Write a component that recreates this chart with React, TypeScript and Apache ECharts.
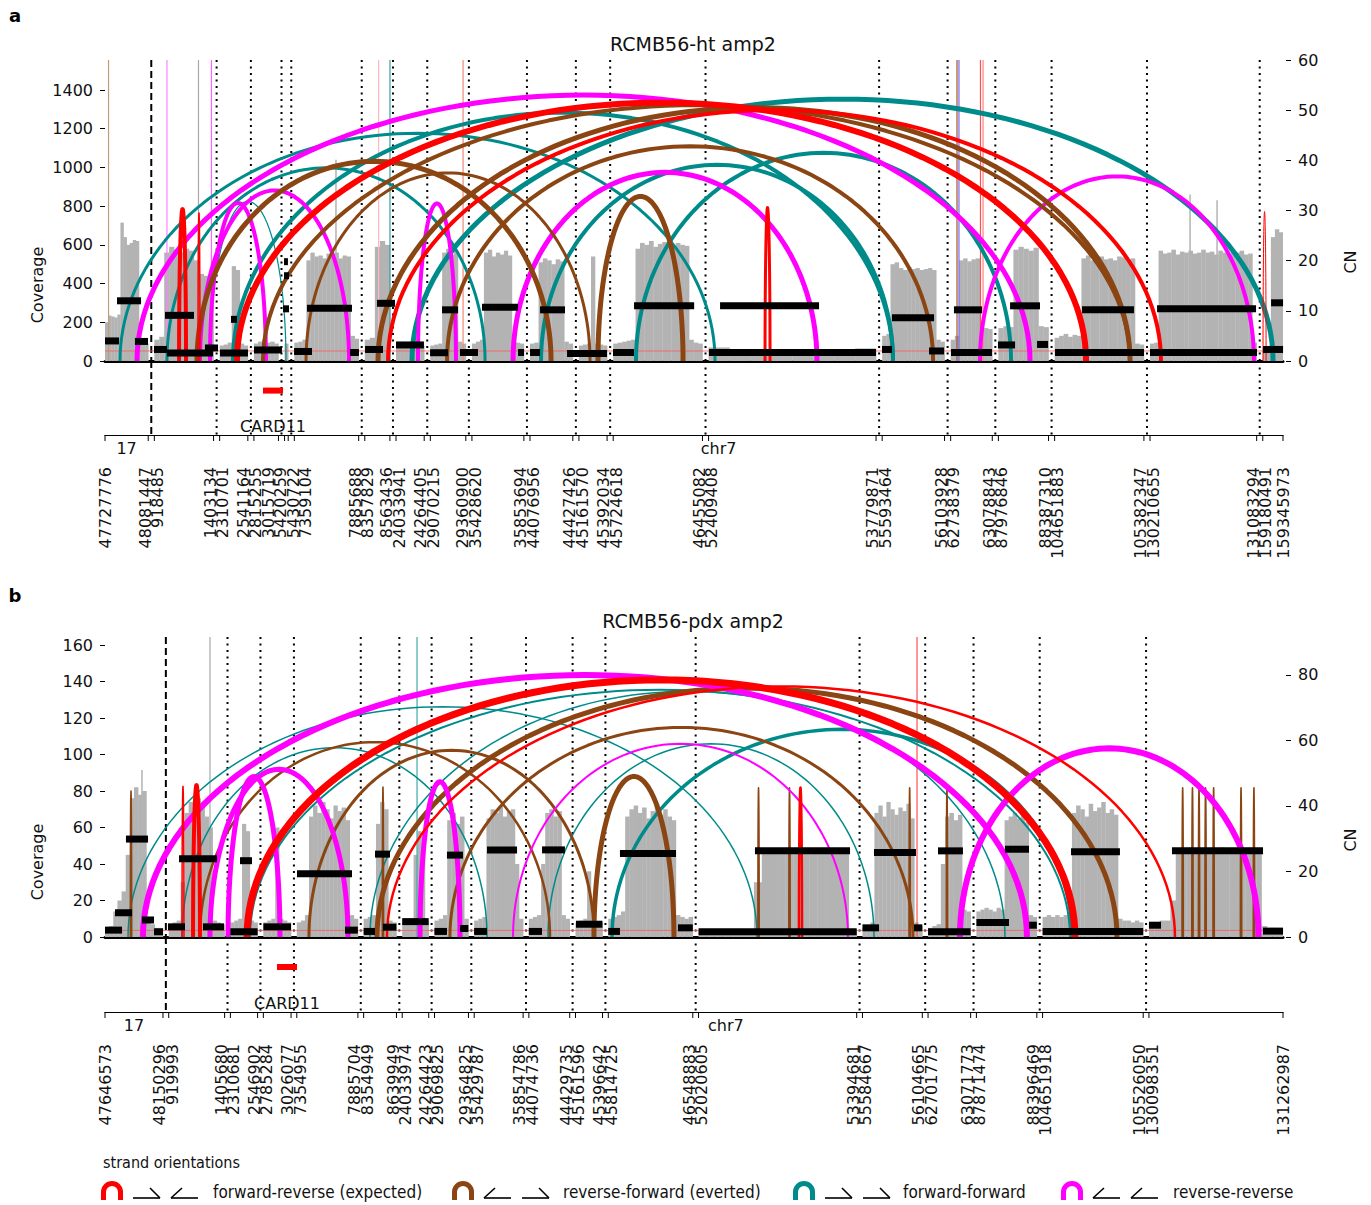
import React, { useEffect, useRef } from "react";
import * as echarts from "echarts";

const FONT = '"DejaVu Sans", sans-serif';
const NARROW = '"Liberation Sans Narrow", "DejaVu Sans Condensed", "Open Sans", sans-serif';

// stitched-interval layout: gap between intervals and minimum drawn interval width (kb)
const GAP_KB = 50;
const MIN_WIDTH_KB = 30;
const GRID_LEFT = 105;
const GRID_WIDTH = 1178;
const LABEL_SPACING_PX = 12.5;

// strand orientation colours: forward-reverse, reverse-forward, forward-forward, reverse-reverse
const ORIENT_COLORS = ["#ff0000", "#8b4513", "#008b8b", "#ff00ff"];
const ORIENT_NAMES = ["forward-reverse (expected)", "reverse-forward (everted)", "forward-forward", "reverse-reverse"];
const COVERAGE_GRAY = "#b3b3b3";

type Seg = [string, number, number];

// ================= RCMB56-ht amp2 =================
const SEGMENTS_HT: Seg[] = [
  ["17", 47727776, 48081447],
  ["7", 918485, 1403134],
  ["7", 2310701, 2541164],
  ["7", 2815255, 3015719],
  ["7", 5420259, 5430722],
  ["7", 7359104, 7885688],
  ["7", 8357829, 8563436],
  ["7", 24033941, 24264405],
  ["7", 29070215, 29360900],
  ["7", 35428620, 35853694],
  ["7", 44076956, 44427426],
  ["7", 45161570, 45392034],
  ["7", 45724618, 46455082],
  ["7", 52409408, 53779871],
  ["7", 55593464, 56103928],
  ["7", 62738379, 63078843],
  ["7", 87976846, 88387310],
  ["7", 104651883, 105382347],
  ["7", 130210655, 131083294],
  ["7", 159180491, 159345973],
];

// binned read coverage, one list of equal-width bins per interval
const COVERAGE_HT: number[][] = [
  [200, 235, 230, 225, 240, 715, 640, 600, 610, 625, 620, 110, 95, 90],
  [110, 125, 560, 590, 575, 560, 580, 570, 520, 450, 440, 430],
  [80, 85, 95, 490, 470, 90, 80],
  [90, 100, 110, 95, 100, 90],
  [90],
  [95, 100, 110, 520, 560, 540, 545, 530, 555, 540, 560, 530, 545, 540, 130, 115],
  [110, 120, 590, 620, 600],
  [85, 90, 95, 90, 85, 90, 80],
  [80, 85, 90, 560, 580, 550, 570, 100, 90],
  [90, 100, 110, 560, 575, 540, 560, 550, 570, 545, 100, 95, 90],
  [90, 95, 510, 530, 520, 500, 525, 515, 100, 90],
  [80, 85, 90, 540, 90, 85, 80],
  [90, 95, 100, 105, 110, 580, 610, 600, 620, 590, 605, 615, 600, 585, 610, 600, 595, 110, 95, 90],
  [70, 60, 55, 60, 55, 60, 55, 65],
  [130, 140, 500, 510, 480, 470, 485, 475, 480, 470, 475, 480, 470, 110, 100],
  [110, 130, 520, 530, 515, 525, 530, 175, 170, 165],
  [170, 180, 175, 575, 590, 580, 570, 585, 180, 175],
  [120, 130, 140, 125, 135, 130, 530, 545, 520, 535, 540, 525, 530, 520, 540, 535, 525, 530, 90, 85],
  [90, 95, 570, 555, 560, 575, 550, 565, 560, 570, 555, 560, 575, 560, 565, 550, 570, 560, 555, 565, 560, 570, 550, 555, 95],
  [60, 55, 640, 680, 665],
];
// single-bin coverage spikes: [position kb, coverage]
const SPIKES_HT: [number, number][] = [[1890, 1040], [8879, 860], [9100, 830]];

// copy-number segments: [start kb, end kb, CN]
const CN_HT: [number, number, number][] = [
  [0, 115, 4.0], [98, 295, 12.0], [245, 352, 3.9], [401, 507, 2.3], [491, 728, 9.1],
  [507, 884, 1.6], [818, 925, 2.6], [941, 1170, 1.6], [1031, 1080, 8.3], [1219, 1448, 2.2],
  [1465, 1497, 19.8], [1465, 1506, 17.0], [1457, 1506, 10.4], [1547, 1694, 1.9], [1653, 2021, 10.5],
  [2005, 2078, 1.7], [2128, 2275, 2.3], [2226, 2373, 11.5], [2381, 2610, 3.2], [2660, 2807, 1.65],
  [2758, 2889, 10.2], [2905, 3052, 1.7], [3085, 3380, 10.7], [3380, 3429, 1.7], [3478, 3560, 1.7],
  [3560, 3764, 10.2], [3781, 4108, 1.5], [4157, 4329, 1.7], [4329, 4821, 11.0], [4942, 6309, 1.7],
  [5033, 5843, 11.0], [6358, 6440, 2.3], [6440, 6784, 8.6], [6743, 6866, 2.0], [6947, 7177, 10.2],
  [6923, 7258, 1.7], [7307, 7447, 3.2], [7406, 7651, 11.0], [7627, 7717, 3.3], [7774, 8502, 1.7],
  [7995, 8420, 10.2], [8551, 9427, 1.7], [8609, 9419, 10.4], [9476, 9640, 2.3], [9542, 9640, 11.6],
];

// breakpoint edges: [pos1 kb, pos2 kb, arc height CN, line width (read support), orientation]
const ARCS_HT: [number, number, number, number, number][] = [
  [123, 4992, 45.4, 3, 2],
  [507, 3110, 38.5, 3, 2],
  [1047, 6448, 49.5, 4, 2],
  [2512, 9558, 52.2, 5, 2],
  [3568, 6448, 39.1, 4, 2],
  [4345, 7414, 41.5, 4, 2],
  [859, 1481, 31.8, 1.2, 2],
  [262, 7569, 53, 5, 3],
  [3339, 5826, 37.6, 5, 3],
  [7160, 9402, 36.8, 4, 3],
  [777, 1997, 34, 4, 3],
  [859, 1317, 31.5, 4, 3],
  [2561, 2872, 31.4, 4, 3],
  [753, 3650, 39.8, 5, 1],
  [1645, 3969, 37.5, 3, 1],
  [2799, 6776, 42.8, 4, 1],
  [2234, 8388, 50.5, 5, 1],
  [4034, 4730, 32.8, 5, 1],
  [1293, 8388, 51, 4, 1],
  [1080, 8028, 51.5, 6, 0],
  [2316, 8641, 50, 4, 0],
  [606, 663, 30.3, 4, 0],
  [761, 777, 29.5, 1.5, 0],
  [5401, 5442, 30.6, 3, 0],
  [9476, 9501, 29.8, 1, 0],
];

// edges leaving the amplicon: [position kb, colour]
const EDGES_HT: [number, string][] = [
  [29, "#c49a78"], [507, "#ff80ff"], [765, "#a8a8a8"], [871, "#ff66ff"], [2239, "#ffb6c1"],
  [2332, "#3aa0a0"], [2930, "#f08878"], [6972, "#a0522d"], [6988, "#7b68ee"], [7164, "#ff5050"], [7185, "#ff8080"],
];
const GENE_HT: [string, number, number] = ["CARD11", 1293, 1457];

// ================= RCMB56-pdx amp2 =================
const SEGMENTS_PDX: Seg[] = [
  ["17", 47646573, 48150296],
  ["7", 919993, 1405680],
  ["7", 2310681, 2546902],
  ["7", 2785284, 3026077],
  ["7", 7354955, 7885704],
  ["7", 8354949, 8639949],
  ["7", 24033974, 24264423],
  ["7", 29069825, 29364825],
  ["7", 35429787, 35854786],
  ["7", 44074736, 44429735],
  ["7", 45161596, 45396642],
  ["7", 45814725, 46548883],
  ["7", 52020605, 53394681],
  ["7", 55584667, 56104665],
  ["7", 62701775, 63071773],
  ["7", 87871474, 88396469],
  ["7", 104651918, 105526050],
  ["7", 130098351, 131262987],
];

const COVERAGE_PDX: number[][] = [
  [4, 6, 14, 20, 25, 45, 76, 82, 78, 80, 8, 7, 5, 5],
  [7, 8, 9, 30, 68, 74, 70, 76, 72, 66, 60, 9, 8, 7],
  [8, 9, 10, 62, 58, 9, 8],
  [8, 9, 10, 60, 10, 9, 8],
  [8, 9, 12, 66, 72, 68, 74, 70, 65, 72, 69, 71, 64, 12, 10],
  [10, 11, 12, 62, 74, 70, 9, 8],
  [8, 9, 10, 45, 58, 55, 9],
  [9, 10, 12, 64, 68, 62, 66, 10],
  [9, 10, 11, 65, 70, 68, 72, 66, 69, 70, 40, 10],
  [10, 11, 12, 40, 68, 70, 66, 69, 12, 10],
  [8, 9, 10, 36, 9, 8, 8],
  [10, 11, 12, 14, 66, 70, 72, 68, 71, 65, 69, 73, 67, 70, 66, 64, 12, 11, 10, 11],
  [4, 3, 3, 3, 3, 3, 3, 30, 47, 48, 46, 47, 48, 47, 46, 48, 47, 46, 47, 4],
  [5, 6, 8, 68, 72, 66, 74, 70, 67, 71, 69, 73, 65, 8, 6],
  [5, 6, 7, 40, 66, 68, 64, 67, 15, 14],
  [14, 15, 16, 15, 14, 16, 15, 64, 66, 68, 65, 67, 63, 12, 11],
  [11, 12, 11, 12, 11, 12, 11, 68, 72, 70, 66, 73, 69, 71, 74, 68, 70, 67, 10, 9, 9, 8, 9, 8],
  [8, 8, 9, 9, 20, 48, 47, 49, 48, 47, 48, 46, 48, 49, 47, 48, 47, 48, 49, 47, 48, 6, 5, 5, 4],
];
const SPIKES_PDX: [number, number][] = [[321, 91.5]];

const CN_PDX: [number, number, number][] = [
  [0, 148, 2.1], [87, 235, 7.4], [182, 374, 29.9], [321, 426, 5.2], [426, 504, 1.6],
  [547, 695, 3.1], [643, 973, 23.9], [851, 1034, 3.1], [1089, 1326, 1.6], [1173, 1277, 23.3],
  [1376, 1616, 3.1], [1668, 2146, 19.3], [2085, 2197, 2.1], [2247, 2346, 1.7], [2346, 2476, 25.3],
  [2415, 2532, 3.0], [2582, 2812, 4.7], [2862, 2971, 1.7], [2971, 3110, 25.0], [3084, 3157, 2.6],
  [3207, 3319, 1.7], [3319, 3580, 26.6], [3682, 3797, 1.7], [3797, 3996, 26.6], [4092, 4322, 3.9],
  [4372, 4474, 1.7], [4474, 4961, 25.5], [4978, 5107, 2.8], [5157, 6531, 1.6], [5647, 6473, 26.3],
  [6581, 6725, 2.8], [6681, 7046, 25.8], [7029, 7101, 2.8], [7151, 7521, 1.6], [7237, 7454, 26.3],
  [7571, 7854, 4.4], [7819, 8028, 26.8], [8028, 8096, 3.6], [8146, 9020, 1.7], [8393, 8818, 26.0],
  [9070, 9175, 3.6], [9270, 10061, 26.3], [10061, 10235, 1.8],
];

const ARCS_PDX: [number, number, number, number, number][] = [
  [200, 5665, 70.3, 1.5, 2],
  [669, 3319, 57.8, 1.5, 2],
  [1260, 8384, 75.5, 2, 2],
  [4405, 8401, 63.4, 3.5, 2],
  [2302, 7819, 75, 1.5, 2],
  [3849, 6681, 59, 1.5, 2],
  [825, 3866, 59.5, 2.5, 1],
  [1772, 4248, 57, 3, 1],
  [2997, 7020, 64, 3, 1],
  [2363, 8792, 76, 5, 1],
  [4248, 4943, 49, 5, 1],
  [220, 232, 44.6, 1.5, 1],
  [2409, 2421, 45.8, 1.5, 1],
  [5672, 5684, 45.6, 1.5, 1],
  [5941, 5953, 45.6, 1.5, 1],
  [6985, 6997, 45.6, 1.5, 1],
  [7309, 7321, 45.6, 1.5, 1],
  [9357, 9369, 45.6, 1.5, 1],
  [9442, 9454, 45.6, 1.5, 1],
  [9499, 9511, 45.6, 1.5, 1],
  [9556, 9568, 45.6, 1.5, 1],
  [9626, 9638, 45.6, 1.5, 1],
  [9864, 9876, 45.6, 1.5, 1],
  [9976, 9988, 45.6, 1.5, 1],
  [330, 8010, 80, 6, 3],
  [7428, 10022, 57.6, 6, 3],
  [912, 2111, 51.2, 5, 3],
  [1069, 1520, 49, 5, 3],
  [2737, 3084, 47.4, 5, 3],
  [3545, 6455, 59, 2, 3],
  [1234, 8427, 78.5, 7, 0],
  [2450, 9296, 76.5, 2.5, 0],
  [765, 825, 46.4, 4, 0],
  [669, 686, 46, 1.5, 0],
  [6029, 6056, 45.6, 2.5, 0],
];

const EDGES_PDX: [number, string][] = [[912, "#a8a8a8"], [2711, "#40a8a8"], [7055, "#ff5050"]];
const GENE_PDX: [string, number, number] = ["CARD11", 1494, 1668];

// ---------------------------------------------------------------------------

function layoutSegments(segs: Seg[]) {
  let pos = 0;
  const placed = segs.map((s) => {
    const w = Math.max((s[2] - s[1]) / 1000, MIN_WIDTH_KB);
    const p = { chr: s[0], start: s[1], end: s[2], x0: pos, x1: pos + w };
    pos += w + GAP_KB;
    return p;
  });
  return { placed, total: pos - GAP_KB };
}

// spread sorted positions so neighbours are at least minGap apart, keeping clusters centred
function spreadLabels(xs: number[], minGap: number) {
  let groups = xs.map((x) => ({ sum: x, n: 1 }));
  const span = (g: { sum: number; n: number }) => {
    const c = g.sum / g.n;
    return [c - ((g.n - 1) / 2) * minGap, c + ((g.n - 1) / 2) * minGap];
  };
  let changed = true;
  while (changed) {
    changed = false;
    for (let i = 1; i < groups.length; i++) {
      const a = span(groups[i - 1]);
      const b = span(groups[i]);
      if (b[0] - a[1] < minGap - 1e-9) {
        groups[i - 1] = { sum: groups[i - 1].sum + groups[i].sum, n: groups[i - 1].n + groups[i].n };
        groups.splice(i, 1);
        changed = true;
        break;
      }
    }
  }
  const out: number[] = [];
  groups.forEach((g) => {
    const l = span(g)[0];
    for (let k = 0; k < g.n; k++) out.push(l + k * minGap);
  });
  return out;
}

function textStyle(text: string, font: string, align: string, vAlign: string, fill = "#111") {
  return { text, font, fill, align, verticalAlign: vAlign, textAlign: align, textVerticalAlign: vAlign };
}

interface PanelSpec {
  title: string;
  letter: string;
  top: number;
  height: number;
  trackHeight: number;
  segments: Seg[];
  coverage: number[][];
  spikes: [number, number][];
  cn: [number, number, number][];
  arcs: [number, number, number, number, number][];
  edges: [number, string][];
  gene: [string, number, number];
  covMax: number;
  covStep: number;
  cnMax: number;
  cnStep: number;
  covLabelY: number;
  cnLabelY: number;
  letterY: number;
}

const PANELS: PanelSpec[] = [
  {
    title: "RCMB56-ht amp2", letter: "a", top: 60, height: 301, trackHeight: 74,
    segments: SEGMENTS_HT, coverage: COVERAGE_HT, spikes: SPIKES_HT, cn: CN_HT, arcs: ARCS_HT,
    edges: EDGES_HT, gene: GENE_HT, covMax: 1555, covStep: 200, cnMax: 60, cnStep: 10,
    covLabelY: 285, cnLabelY: 262, letterY: 15,
  },
  {
    title: "RCMB56-pdx amp2", letter: "b", top: 637, height: 300, trackHeight: 75,
    segments: SEGMENTS_PDX, coverage: COVERAGE_PDX, spikes: SPIKES_PDX, cn: CN_PDX, arcs: ARCS_PDX,
    edges: EDGES_PDX, gene: GENE_PDX, covMax: 164.4, covStep: 20, cnMax: 91.6, cnStep: 20,
    covLabelY: 862, cnLabelY: 840, letterY: 595,
  },
];

function stepValues(max: number, step: number) {
  const v: number[] = [];
  for (let x = 0; x <= max + 1e-9; x += step) v.push(Math.round(x * 1000) / 1000);
  return v;
}

function buildOption() {
  const grid: any[] = [];
  const xAxis: any[] = [];
  const yAxis: any[] = [];
  const series: any[] = [];
  const graphic: any[] = [];

  PANELS.forEach((p, pi) => {
    const { placed, total } = layoutSegments(p.segments);
    const gMain = pi * 2;
    const gTrack = pi * 2 + 1;
    const yCov = pi * 3;
    const yCn = pi * 3 + 1;
    const yTrack = pi * 3 + 2;

    grid.push({ left: GRID_LEFT, top: p.top, width: GRID_WIDTH, height: p.height });
    grid.push({ left: GRID_LEFT, top: p.top + p.height, width: GRID_WIDTH, height: p.trackHeight });

    xAxis.push({
      type: "value", gridIndex: gMain, min: 0, max: total, show: true,
      axisLine: { show: true, onZero: false, lineStyle: { color: "#000", width: 3 } },
      axisTick: { show: false }, axisLabel: { show: false }, splitLine: { show: false },
    });
    xAxis.push({
      type: "value", gridIndex: gTrack, min: 0, max: total, position: "bottom",
      axisLine: { show: true, onZero: false, lineStyle: { color: "#000", width: 1 } },
      axisTick: { show: false }, axisLabel: { show: false }, splitLine: { show: false },
    });

    const covTicks = stepValues(p.covMax, p.covStep);
    const cnTicks = stepValues(p.cnMax, p.cnStep);
    yAxis.push({
      type: "value", gridIndex: gMain, min: 0, max: p.covMax, interval: p.covStep, position: "left", offset: 2,
      axisLine: { show: false },
      axisTick: { show: true, length: 5, lineStyle: { color: "#000" }, customValues: covTicks },
      axisLabel: { show: true, customValues: covTicks, showMaxLabel: true, showMinLabel: true, margin: 10, color: "#111", fontSize: 16, fontFamily: FONT,
        formatter: (v: number) => (Math.abs(v / p.covStep - Math.round(v / p.covStep)) < 1e-6 ? String(v) : "") },
      splitLine: { show: false },
    });
    yAxis.push({
      type: "value", gridIndex: gMain, min: 0, max: p.cnMax, interval: p.cnStep, position: "right", offset: 3,
      axisLine: { show: false },
      axisTick: { show: true, length: 5, lineStyle: { color: "#000" }, customValues: cnTicks },
      axisLabel: { show: true, customValues: cnTicks, showMaxLabel: true, showMinLabel: true, margin: 12, color: "#111", fontSize: 16, fontFamily: FONT,
        formatter: (v: number) => (Math.abs(v / p.cnStep - Math.round(v / p.cnStep)) < 1e-6 ? String(v) : "") },
      splitLine: { show: false },
    });
    yAxis.push({ type: "value", gridIndex: gTrack, min: 0, max: 1, show: false });

    // ---- coverage bins
    const bins: number[][] = [];
    placed.forEach((s, si) => {
      const vals = p.coverage[si] || [];
      const w = (s.x1 - s.x0) / vals.length;
      vals.forEach((v, k) => bins.push([s.x0 + k * w, s.x0 + (k + 1) * w, v]));
    });
    series.push({
      type: "custom", xAxisIndex: gMain, yAxisIndex: yCov, z: 1, silent: true, clip: true,
      data: bins,
      renderItem: (_: any, api: any) => {
        const a = api.coord([api.value(0), api.value(2)]);
        const b = api.coord([api.value(1), 0]);
        return { type: "rect", shape: { x: a[0], y: a[1], width: b[0] - a[0] + 0.3, height: b[1] - a[1] }, style: { fill: COVERAGE_GRAY } };
      },
    });
    series.push({
      type: "custom", xAxisIndex: gMain, yAxisIndex: yCov, z: 1, silent: true,
      data: p.spikes,
      renderItem: (_: any, api: any) => {
        const a = api.coord([api.value(0), api.value(1)]);
        const b = api.coord([api.value(0), 0]);
        return { type: "line", shape: { x1: a[0], y1: a[1], x2: b[0], y2: b[1] }, style: { stroke: COVERAGE_GRAY, lineWidth: 1.5 } };
      },
    });

    // ---- edges leaving the amplicon
    series.push({
      type: "custom", xAxisIndex: gMain, yAxisIndex: yCn, z: 2, silent: true,
      data: p.edges.map((e) => [e[0]]),
      renderItem: (params: any, api: any) => {
        const a = api.coord([api.value(0), p.cnMax]);
        const b = api.coord([api.value(0), 0]);
        return { type: "line", shape: { x1: a[0], y1: a[1], x2: b[0], y2: b[1] }, style: { stroke: p.edges[params.dataIndex][1], lineWidth: 1.2 } };
      },
    });

    // ---- interval boundaries
    const bounds: number[][] = [];
    for (let i = 0; i + 1 < placed.length; i++) {
      bounds.push([(placed[i].x1 + placed[i + 1].x0) / 2, placed[i].chr !== placed[i + 1].chr ? 1 : 0]);
    }
    const boundaryItem = (yTop: number) => (_: any, api: any) => {
      const a = api.coord([api.value(0), yTop]);
      const b = api.coord([api.value(0), 0]);
      const chrBreak = api.value(1) === 1;
      return {
        type: "line", shape: { x1: a[0], y1: a[1], x2: b[0], y2: b[1] },
        style: { stroke: "#000", lineWidth: 2, lineDash: chrBreak ? [7, 4] : [2, 4.5] },
      };
    };
    series.push({ type: "custom", xAxisIndex: gMain, yAxisIndex: yCn, z: 2, silent: true, data: bounds, renderItem: boundaryItem(p.cnMax) });
    series.push({ type: "custom", xAxisIndex: gTrack, yAxisIndex: yTrack, z: 2, silent: true, data: bounds, renderItem: boundaryItem(1) });

    // ---- diploid reference level
    series.push({
      type: "custom", xAxisIndex: gMain, yAxisIndex: yCn, z: 2, silent: true,
      data: [[0, total, 2]],
      renderItem: (_: any, api: any) => {
        const a = api.coord([api.value(0), api.value(2)]);
        const b = api.coord([api.value(1), api.value(2)]);
        return { type: "line", shape: { x1: a[0], y1: a[1], x2: b[0], y2: b[1] }, style: { stroke: "#ff5a5a", lineWidth: 1, opacity: 0.8 } };
      },
    });

    // ---- breakpoint arcs
    series.push({
      type: "custom", xAxisIndex: gMain, yAxisIndex: yCn, z: 3, silent: true, clip: false,
      data: p.arcs,
      renderItem: (_: any, api: any) => {
        const x1 = api.value(0), x2 = api.value(1), h = api.value(2);
        const cx = (x1 + x2) / 2, rx = (x2 - x1) / 2;
        const pts: number[][] = [];
        const N = 90;
        for (let k = 0; k <= N; k++) {
          const t = (Math.PI * k) / N;
          pts.push(api.coord([cx - rx * Math.cos(t), h * Math.sin(t)]));
        }
        return {
          type: "polyline", shape: { points: pts },
          style: { stroke: ORIENT_COLORS[api.value(4)], lineWidth: api.value(3), fill: null, lineJoin: "round" },
        };
      },
    });

    // ---- copy-number segments
    series.push({
      type: "custom", xAxisIndex: gMain, yAxisIndex: yCn, z: 4, silent: true,
      data: p.cn,
      renderItem: (_: any, api: any) => {
        const a = api.coord([api.value(0), api.value(2)]);
        const b = api.coord([api.value(1), api.value(2)]);
        return { type: "rect", shape: { x: a[0], y: a[1] - 3.5, width: b[0] - a[0], height: 7 }, style: { fill: "#000" } };
      },
    });

    // ---- genomic ticks and labels
    const ticks: number[] = [];
    const tickText: string[] = [];
    placed.forEach((s) => {
      ticks.push(s.x0, s.x1);
      tickText.push(String(s.start), String(s.end));
    });
    const kbPerPx = total / GRID_WIDTH;
    const labelX = spreadLabels(ticks, LABEL_SPACING_PX * kbPerPx);
    series.push({
      type: "custom", xAxisIndex: gTrack, yAxisIndex: yTrack, z: 2, silent: true, clip: false,
      data: ticks.map((t, i) => [t, labelX[i]]),
      renderItem: (params: any, api: any) => {
        const t = api.coord([api.value(0), 0]);
        const l = api.coord([api.value(1), 0]);
        return {
          type: "group",
          children: [
            { type: "line", shape: { x1: t[0], y1: t[1], x2: t[0], y2: t[1] + 6 }, style: { stroke: "#000", lineWidth: 1 } },
            { type: "text", x: l[0], y: t[1] + 32, rotation: Math.PI / 2, style: textStyle(tickText[params.dataIndex], `16px ${FONT}`, "right", "middle") },
          ],
        };
      },
    });

    // chromosome names centred on their span
    const chrSpans: { name: string; a: number; b: number }[] = [];
    placed.forEach((s) => {
      const last = chrSpans[chrSpans.length - 1];
      if (last && last.name === s.chr) last.b = s.x1;
      else chrSpans.push({ name: s.chr, a: s.x0, b: s.x1 });
    });
    series.push({
      type: "custom", xAxisIndex: gTrack, yAxisIndex: yTrack, z: 2, silent: true, clip: false,
      data: chrSpans.map((c) => [(c.a + c.b) / 2]),
      renderItem: (params: any, api: any) => {
        const c = api.coord([api.value(0), 0]);
        const name = chrSpans[params.dataIndex].name;
        return { type: "text", x: c[0], y: c[1] + 13, style: textStyle(name === "17" ? "17" : "chr" + name, `16px ${FONT}`, "center", "middle") };
      },
    });

    // gene track
    series.push({
      type: "custom", xAxisIndex: gTrack, yAxisIndex: yTrack, z: 2, silent: true, clip: false,
      data: [[p.gene[1], p.gene[2]]],
      renderItem: (_: any, api: any) => {
        const a = api.coord([api.value(0), 0.6]);
        const b = api.coord([api.value(1), 0.6]);
        const lab = api.coord([(api.value(0) + api.value(1)) / 2, 0.12]);
        return {
          type: "group",
          children: [
            { type: "rect", shape: { x: a[0], y: a[1] - 3, width: b[0] - a[0], height: 6 }, style: { fill: "#ff0000" } },
            { type: "text", x: lab[0], y: lab[1], style: textStyle(p.gene[0], `16px ${FONT}`, "center", "middle") },
          ],
        };
      },
    });

    // titles and axis names
    graphic.push({ type: "text", x: 693, y: p.top - 16, style: textStyle(p.title, `19px ${FONT}`, "center", "middle") });
    graphic.push({ type: "text", x: 15, y: p.letterY, style: textStyle(p.letter, `bold 18px ${FONT}`, "center", "middle", "#000") });
    graphic.push({ type: "text", x: 37, y: p.covLabelY, rotation: Math.PI / 2, style: textStyle("Coverage", `16px ${FONT}`, "center", "middle") });
    graphic.push({ type: "text", x: 1350, y: p.cnLabelY, rotation: Math.PI / 2, style: textStyle("CN", `16px ${FONT}`, "center", "middle") });
  });

  // ---- strand orientation legend
  const ink = { stroke: "#000", lineWidth: 1.6 };
  const harpoon = (x: number, y: number, forward: boolean) => [
    { type: "line", shape: { x1: x, y1: y, x2: x + 27, y2: y }, style: ink },
    forward
      ? { type: "line", shape: { x1: x + 17, y1: y - 10, x2: x + 27, y2: y }, style: ink }
      : { type: "line", shape: { x1: x, y1: y, x2: x + 11, y2: y - 10 }, style: ink },
  ];
  const legendItems: { x: number; orient: number; marks: boolean[]; textX: number }[] = [
    { x: 100, orient: 0, marks: [true, false], textX: 213 },
    { x: 451, orient: 1, marks: [false, true], textX: 563 },
    { x: 792, orient: 2, marks: [true, true], textX: 903 },
    { x: 1060, orient: 3, marks: [false, false], textX: 1173 },
  ];
  graphic.push({ type: "text", x: 103, y: 1162, style: textStyle("strand orientations", `16px ${NARROW}`, "left", "middle") });
  legendItems.forEach((it) => {
    const col = ORIENT_COLORS[it.orient];
    const cx = it.x + 12, cy = 1192;
    graphic.push({ type: "arc", shape: { cx, cy, r: 8.5, startAngle: Math.PI, endAngle: 2 * Math.PI, clockwise: true }, style: { stroke: col, lineWidth: 5, fill: null } });
    graphic.push({ type: "line", shape: { x1: cx - 8.5, y1: cy, x2: cx - 8.5, y2: cy + 8 }, style: { stroke: col, lineWidth: 5 } });
    graphic.push({ type: "line", shape: { x1: cx + 8.5, y1: cy, x2: cx + 8.5, y2: cy + 8 }, style: { stroke: col, lineWidth: 5 } });
    harpoon(it.x + 33, 1198, it.marks[0]).forEach((e) => graphic.push(e));
    harpoon(it.x + 71, 1198, it.marks[1]).forEach((e) => graphic.push(e));
    graphic.push({ type: "text", x: it.textX, y: 1192, style: textStyle(ORIENT_NAMES[it.orient], `17px ${NARROW}`, "left", "middle") });
  });

  return {
    animation: false,
    backgroundColor: "#ffffff",
    grid,
    xAxis,
    yAxis,
    series,
    graphic: { elements: graphic },
  };
}

export default function App() {
  const ref = useRef<HTMLDivElement>(null);
  useEffect(() => {
    if (!ref.current) return;
    const chart = echarts.init(ref.current, null, { renderer: "svg" });
    chart.setOption(buildOption() as any);
    return () => chart.dispose();
  }, []);
  return <div ref={ref} style={{ position: "absolute", left: 0, top: 0, width: 1371, height: 1205, background: "#fff" }} />;
}
